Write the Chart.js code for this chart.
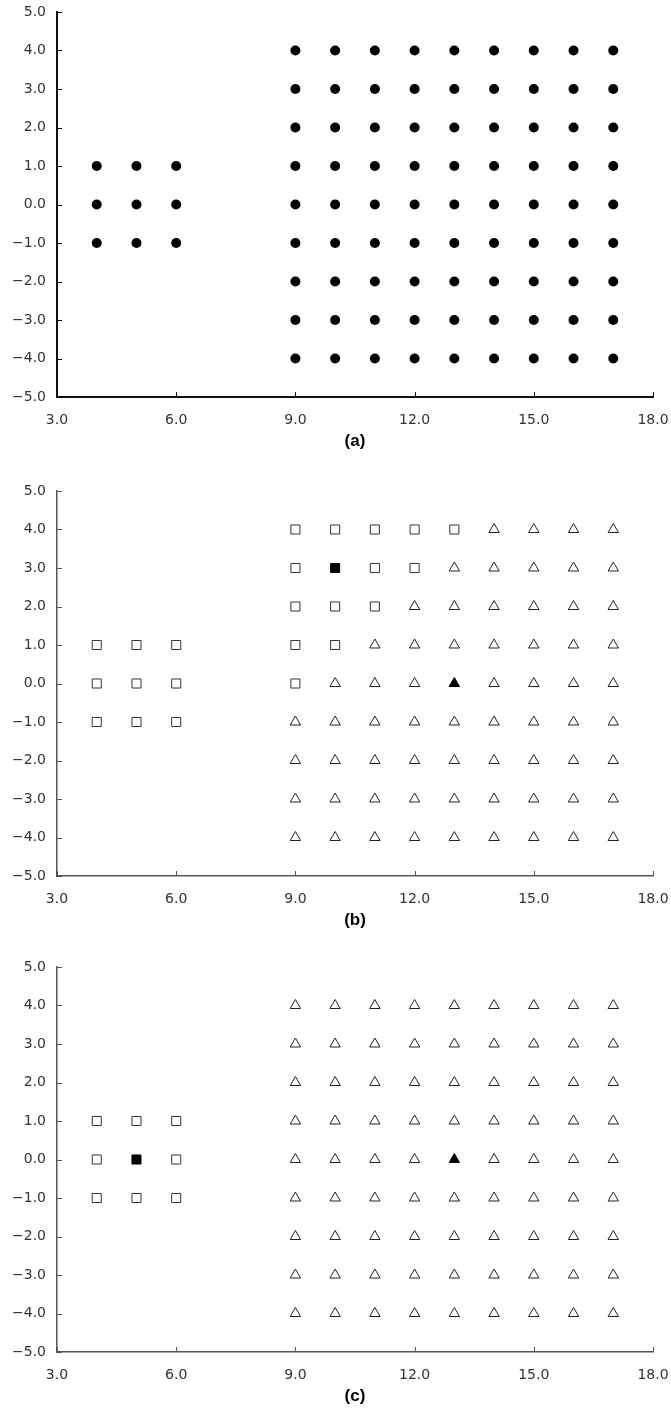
<!DOCTYPE html>
<html>
<head>
<meta charset="utf-8">
<script src="https://cdn.jsdelivr.net/npm/chart.js@4.4.0/dist/chart.umd.min.js"></script>
<style>
  html, body { margin: 0; padding: 0; background: #fff; }
  .panel { position: absolute; left: 0; width: 671px; height: 456px; }
</style>
</head>
<body>
<div class="panel" style="top:0"><canvas id="chartA" width="671" height="456"></canvas></div>
<div class="panel" style="top:479px"><canvas id="chartB" width="671" height="456"></canvas></div>
<div class="panel" style="top:955px"><canvas id="chartC" width="671" height="456"></canvas></div>
<script>
  // small cluster on the left
  var leftX = [4, 5, 6];
  var leftY = [-1, 0, 1];
  // big grid on the right
  var rightX = [9, 10, 11, 12, 13, 14, 15, 16, 17];
  var rightY = [-4, -3, -2, -1, 0, 1, 2, 3, 4];
  // (b): how many squares start each row of the right grid (rows as rightY)
  var squaresPerRowB = [0, 0, 0, 0, 1, 2, 3, 4, 5];
  // highlighted (filled) points
  var filledSquareB = [10, 3];
  var filledTriB = [13, 0];
  var filledSquareC = [5, 0];
  var filledTriC = [13, 0];

  var xMin = 3, xMax = 18, xStep = 3;
  var yMin = -5, yMax = 5, yStep = 1;

  function same(p, q) { return q && p.x === q[0] && p.y === q[1]; }

  function gridPoints(xs, ys) {
    var pts = [];
    ys.forEach(function(y) { xs.forEach(function(x) { pts.push({ x: x, y: y }); }); });
    return pts;
  }

  function fmt(v) {
    var s = Math.abs(v).toFixed(1);
    return v < 0 ? '\u2212' + s : s;
  }

  // draws short tick marks pointing into the plot
  var innerTicks = {
    id: 'innerTicks',
    afterDraw: function(chart, args, opts) {
      var ctx = chart.ctx, area = chart.chartArea;
      var sx = chart.scales.x, sy = chart.scales.y;
      ctx.save();
      ctx.strokeStyle = opts.color;
      ctx.lineWidth = 1;
      ctx.beginPath();
      sx.ticks.forEach(function(t) {
        var px = Math.round(sx.getPixelForValue(t.value)) + 0.5;
        ctx.moveTo(px, area.bottom);
        ctx.lineTo(px, area.bottom - 5);
      });
      sy.ticks.forEach(function(t) {
        var py = Math.round(sy.getPixelForValue(t.value)) + 0.5;
        ctx.moveTo(area.left, py);
        ctx.lineTo(area.left + 5, py);
      });
      ctx.stroke();
      ctx.restore();
    }
  };

  function makeChart(id, datasets, label, axisColor, axisWidth) {
    var ctx = document.getElementById(id).getContext('2d');
    return new Chart(ctx, {
      type: 'scatter',
      data: { datasets: datasets },
      plugins: [innerTicks],
      options: {
        responsive: false,
        animation: false,
        layout: { padding: { top: 12, right: 18, left: 0, bottom: 0 } },
        plugins: {
          legend: { display: false },
          tooltip: { enabled: false },
          innerTicks: { color: axisColor }
        },
        scales: {
          x: {
            type: 'linear', min: xMin, max: xMax,
            afterFit: function(s) {
              s.height = 59;
              s.paddingLeft = 0;
              s.paddingRight = 0;
            },
            grid: { drawOnChartArea: false, drawTicks: false },
            border: { display: true, color: axisColor, width: axisWidth },
            ticks: {
              stepSize: xStep, padding: 15, color: '#333',
              font: { family: 'DejaVu Sans', size: 14 },
              callback: fmt, maxRotation: 0, autoSkip: false
            },
            title: {
              display: true, text: label, color: '#000',
              font: { family: 'Liberation Sans', size: 17, weight: 'bold' },
              padding: { top: 0, bottom: 4 }
            }
          },
          y: {
            type: 'linear', min: yMin, max: yMax,
            afterFit: function(s) {
              s.width = 57;
              s.paddingTop = 0;
              s.paddingBottom = 0;
            },
            grid: { drawOnChartArea: false, drawTicks: false },
            border: { display: true, color: axisColor, width: axisWidth },
            ticks: {
              stepSize: yStep, padding: 11, color: '#333',
              font: { family: 'DejaVu Sans', size: 14 },
              callback: fmt
            }
          }
        }
      }
    });
  }

  function openSquares(pts) {
    return { data: pts, pointStyle: 'rect', pointRadius: 6.4, borderWidth: 1,
             borderColor: '#333', backgroundColor: '#fff', showLine: false };
  }
  function openTris(pts) {
    return { data: pts, pointStyle: 'triangle', pointRadius: 6, borderWidth: 1,
             borderColor: '#222', backgroundColor: '#fff', showLine: false };
  }
  function filled(p, style, r) {
    return { data: [{ x: p[0], y: p[1] }], pointStyle: style, pointRadius: r, borderWidth: 1,
             borderColor: '#000', backgroundColor: '#000', showLine: false };
  }

  // (a): every point as a black dot
  var allA = gridPoints(leftX, leftY).concat(gridPoints(rightX, rightY));
  makeChart('chartA', [{
    data: allA, pointStyle: 'circle', pointRadius: 5, borderWidth: 0,
    backgroundColor: '#000', showLine: false
  }], '(a)', '#111', 2);

  // (b): squares up the top-left of the grid, triangles elsewhere
  var sqB = gridPoints(leftX, leftY), triB = [];
  rightY.forEach(function(y, i) {
    rightX.forEach(function(x, j) {
      var p = { x: x, y: y };
      if (same(p, filledSquareB) || same(p, filledTriB)) return;
      (j < squaresPerRowB[i] ? sqB : triB).push(p);
    });
  });
  makeChart('chartB', [
    openSquares(sqB), openTris(triB),
    filled(filledSquareB, 'rect', 6.4), filled(filledTriB, 'triangle', 6)
  ], '(b)', '#555', 1.5);

  // (c): left cluster squares, right grid triangles
  var sqC = gridPoints(leftX, leftY).filter(function(p) { return !same(p, filledSquareC); });
  var triC = gridPoints(rightX, rightY).filter(function(p) { return !same(p, filledTriC); });
  makeChart('chartC', [
    openSquares(sqC), openTris(triC),
    filled(filledSquareC, 'rect', 6.4), filled(filledTriC, 'triangle', 6)
  ], '(c)', '#555', 1.5);
</script>
</body>
</html>
